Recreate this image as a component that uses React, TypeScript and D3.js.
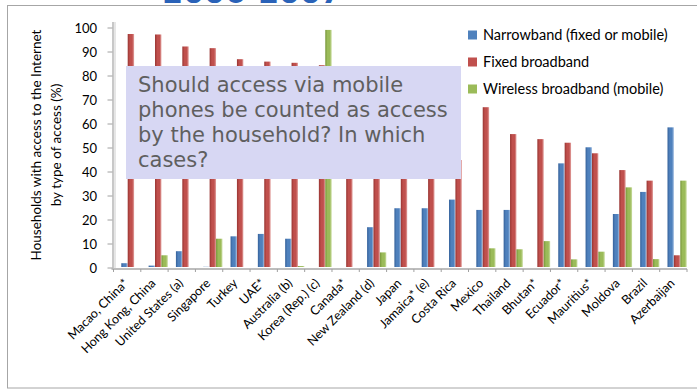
import React from "react";
import * as d3 from "d3";

const categories = [
  "Macao, China*", "Hong Kong, China", "United States (a)", "Singapore", "Turkey", "UAE*",
  "Australia (b)", "Korea (Rep.) (c)", "Canada*", "New Zealand (d)", "Japan", "Jamaica* (e)",
  "Costa Rica", "Mexico", "Thailand", "Bhutan*", "Ecuador*", "Mauritius*", "Moldova", "Brazil", "Azerbaijan",
];
const narrowband = [2, 1, 7, 0.5, 13.2, 14.2, 12.2, 0.3, 0.2, 17, 24.9, 24.9, 28.5, 24.2, 24.2, 0.3, 43.6, 50.3, 22.5, 31.7, 58.6];
const fixedBroadband = [97.5, 97.3, 92.3, 91.6, 87, 86, 85.5, 84.5, 64, 58, 56, 48, 45, 67, 55.8, 53.7, 52.2, 47.8, 40.8, 36.4, 5.3];
const wirelessBroadband = [0, 5.3, 0, 12.2, 0, 0, 0.8, 99.2, 0, 6.5, 0, 0, 0, 8.2, 7.8, 11.2, 3.6, 6.8, 33.6, 3.7, 36.4];
const seriesNames = ["Narrowband (fixed or mobile)", "Fixed broadband", "Wireless broadband (mobile)"];
const yTicks = [0, 10, 20, 30, 40, 50, 60, 70, 80, 90, 100];
const boxLines = ["Should access via mobile", "phones be counted as access", "by the household? In which", "cases?"];
const yTitle = ["Households with access to the Internet", "by type of access (%)"];
const title = "2006-2007";

const colors = [
  { base: "#4F81BD", dark: "#35619A", light: "#A9C3E4" },
  { base: "#C0504D", dark: "#983532", light: "#E3A3A1" },
  { base: "#9BBB59", dark: "#78973B", light: "#CADDA2" },
];

export default function App() {
  const W = 697, H = 390;
  const left = 113.5, right = 687, top = 28, bottom = 268;
  const x0 = d3.scaleBand<string>().domain(categories).range([left, right]).paddingInner(0).paddingOuter(0);
  const x1 = d3.scaleBand<number>().domain([0, 1, 2]).range([7.8, 27]).padding(0);
  const y = d3.scaleLinear().domain([0, 100]).range([bottom, top]);
  const series = [narrowband, fixedBroadband, wirelessBroadband];
  const font = "Lato, 'Open Sans', sans-serif";

  return (
    <svg width={W} height={H} viewBox={`0 0 ${W} ${H}`} style={{ position: "absolute", left: 0, top: 0, background: "#fff" }}>
      <defs>
        {colors.map((c, i) => (
          <linearGradient key={i} id={`g${i}`} x1="0" x2="1" y1="0" y2="0">
            <stop offset="0" stopColor={c.dark} />
            <stop offset="0.35" stopColor={c.base} />
            <stop offset="0.7" stopColor={c.base} />
            <stop offset="1" stopColor={c.light} />
          </linearGradient>
        ))}
      </defs>
      <text x={252} y={3} textAnchor="middle" fontFamily="'DejaVu Sans', sans-serif" fontWeight="bold" fontSize={30} fill="#2A62B8">{title}</text>
      <rect x={7.5} y={5.5} width={700} height={382.5} fill="none" stroke="#A6A6A6" strokeWidth={1} />

      {/* 3D wall / floor */}
      <line x1={left - 0.5} x2={left - 0.5} y1={top - 6} y2={bottom + 1} stroke="#C8C8C8" strokeWidth={2} />
      <line x1={left + 1.5} x2={left + 1.5} y1={top - 6} y2={bottom} stroke="#E6E6E6" strokeWidth={2} />
      <line x1={left - 2} x2={right} y1={bottom + 1} y2={bottom + 1} stroke="#BDBDBD" strokeWidth={2} />
      {yTicks.map((t) => (
        <g key={t}>
          <line x1={left - 6} x2={left - 1} y1={y(t)} y2={y(t)} stroke="#A0A0A0" strokeWidth={1} />
          <text x={97} y={y(t)} dy="0.35em" textAnchor="end" fontFamily={font} fontSize={13} fill="#000">{t}</text>
        </g>
      ))}
      {categories.concat(["__end"]).map((c, i) => {
        const xx = i < categories.length ? (x0(c) as number) : right;
        return <line key={i} x1={xx} x2={xx} y1={bottom + 1} y2={bottom + 4} stroke="#A0A0A0" strokeWidth={1} />;
      })}

      {/* bars */}
      {categories.map((c, ci) => (
        <g key={c}>
          {series.map((s, si) => {
            const v = s[ci];
            const bx = (x0(c) as number) + (x1(si) as number);
            const bw = x1.bandwidth();
            const yt = y(v);
            return <rect key={si} x={bx} y={yt} width={bw} height={Math.max(0, bottom - 1 - yt)} fill={`url(#g${si})`} />;
          })}
        </g>
      ))}

      {/* x labels */}
      {categories.map((c) => {
        const cx = (x0(c) as number) + x0.bandwidth() / 2 + 2;
        return (
          <text key={c} transform={`translate(${cx},${284}) rotate(-45)`} textAnchor="end" fontFamily={font} fontSize={12.5} fill="#000">{c}</text>
        );
      })}

      {/* y title */}
      {yTitle.map((t, i) => (
        <text key={i} transform={`translate(${41 + i * 20},145) rotate(-90)`} textAnchor="middle" fontFamily={font} fontSize={13.5} fill="#000">{t}</text>
      ))}

      {/* legend */}
      {seriesNames.map((n, i) => (
        <g key={n} transform={`translate(468,${35 + i * 27})`}>
          <rect x={0} y={-4.5} width={9} height={9} fill={colors[i].base} />
          <text x={15} y={0} dy="0.35em" fontFamily={font} fontSize={14.5} fill="#000">{n}</text>
        </g>
      ))}

      {/* overlay box */}
      <rect x={126} y={66} width={335} height={113} fill="#D7D7F3" />
      {boxLines.map((l, i) => (
        <text key={i} x={138} y={92 + i * 25} fontFamily="'DejaVu Sans', Verdana, sans-serif" fontSize={21} fill="#5F5F5F">{l}</text>
      ))}
    </svg>
  );
}
